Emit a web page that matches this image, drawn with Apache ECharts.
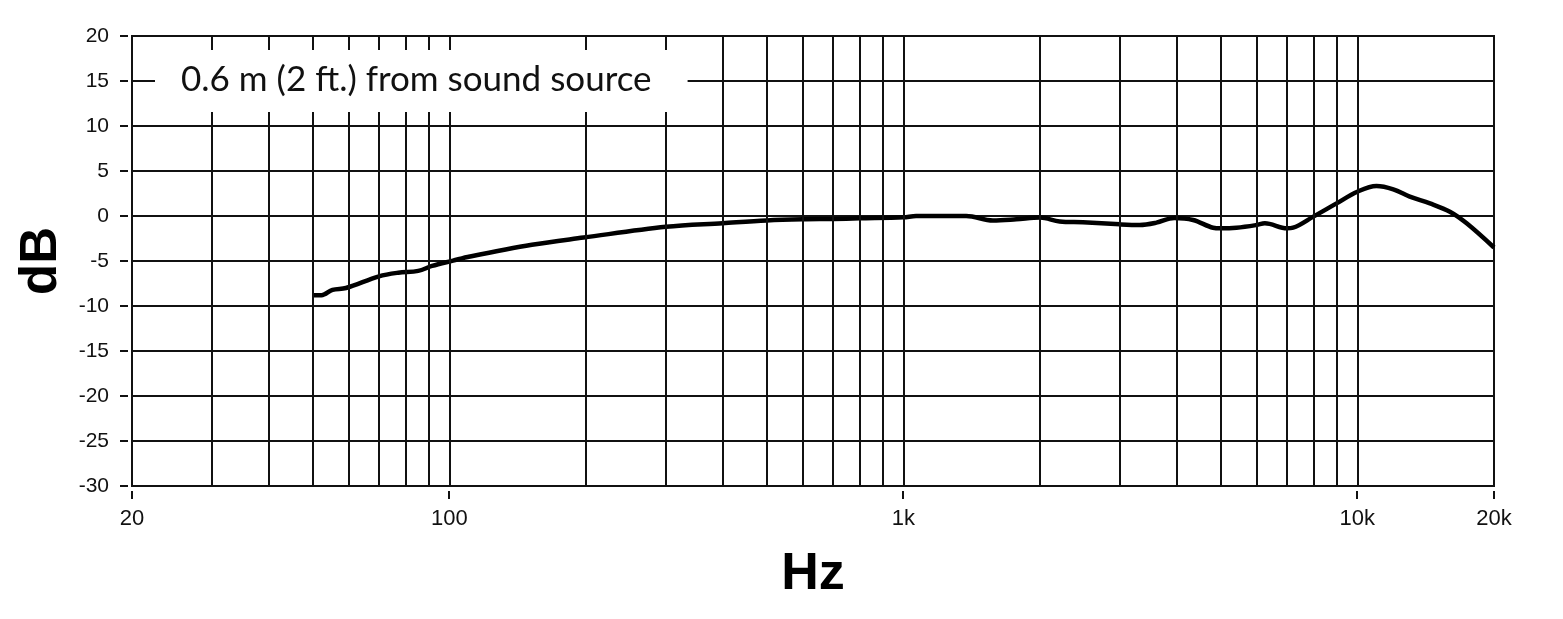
<!DOCTYPE html>
<html>
<head>
<meta charset="utf-8">
<script src="https://cdn.jsdelivr.net/npm/echarts@6/dist/echarts.min.js"></script>
<style>html,body{margin:0;padding:0;background:#fff}#c{width:1563px;height:619px}</style>
</head>
<body>
<div id="c"></div>
<script>
const freqs = [50, 52.3, 55.3, 59.2, 70, 77.2, 85.4, 91.6, 101.9, 111, 152, 197.6, 300, 400, 500, 600, 700, 800, 1000, 1067, 1376, 1575, 1773, 2000, 2209, 2487, 3000, 3316, 3610, 3950, 4347, 4810, 5000, 5418, 6000, 6256, 7000, 7220, 8000, 9000, 10000, 11020, 12000, 13050, 14450, 15990, 17410, 20000];
const dbValues = [-8.8, -8.8, -8.2, -8.0, -6.7, -6.3, -6.1, -5.55, -4.96, -4.5, -3.2, -2.4, -1.2, -0.8, -0.5, -0.37, -0.33, -0.26, -0.15, 0.0, 0.0, -0.5, -0.37, -0.18, -0.6, -0.7, -0.93, -1.0, -0.74, -0.22, -0.44, -1.3, -1.37, -1.3, -1.0, -0.81, -1.37, -1.3, -0.07, 1.4, 2.7, 3.33, 2.96, 2.15, 1.4, 0.48, -0.81, -3.5];
const gridFreqs = [30, 40, 50, 60, 70, 80, 90, 100, 200, 300, 400, 500, 600, 700, 800, 900, 1000, 2000, 3000, 4000, 5000, 6000, 7000, 8000, 9000, 10000];
const xTickLabels = [20, 100, 1000, 10000, 20000];
const yMin = -30, yMax = 20, yStep = 5;
const titleText = '0.6 m (2 ft.) from sound source';

const FONT = '"Liberation Sans", Arial, Helvetica, sans-serif';
const chart = echarts.init(document.getElementById('c'), null, {renderer: 'canvas'});
const lineColor = '#111';
const gridW = 2;
chart.setOption({
  animation: false,
  backgroundColor: '#fff',
  textStyle: {fontFamily: FONT},
  title: {
    text: titleText,
    left: 155, top: 50,
    backgroundColor: '#fff',
    padding: [10, 36, 12, 26],
    textStyle: {fontFamily: 'Lato', fontWeight: 'normal', fontSize: 35, color: '#111', lineHeight: 40},
    z: 10
  },
  grid: {
    left: 132, right: 69, top: 36, bottom: 133,
    show: true, borderColor: lineColor, borderWidth: gridW, backgroundColor: 'transparent'
  },
  xAxis: {
    type: 'log', logBase: 10, min: 20, max: 20000,
    offset: 5,
    name: 'Hz', nameLocation: 'middle', nameGap: 58,
    nameTextStyle: {fontFamily: FONT, fontWeight: 'bold', fontSize: 52, color: '#000'},
    axisLine: {show: false},
    axisTick: {show: false},
    axisLabel: {
      customValues: xTickLabels, margin: 17,
      fontFamily: FONT, fontSize: 22, color: '#111',
      formatter: v => v >= 1000 ? (v / 1000) + 'k' : String(v)
    },
    splitLine: {show: false},
    minorTick: {show: false}
  },
  yAxis: {
    type: 'value', min: yMin, max: yMax, interval: yStep,
    offset: 4,
    name: 'dB', nameLocation: 'middle', nameRotate: 90, nameGap: 58,
    nameTextStyle: {fontFamily: FONT, fontWeight: 'bold', fontSize: 51, color: '#000'},
    axisLine: {show: false},
    axisTick: {show: true, length: 8, lineStyle: {color: lineColor, width: gridW}},
    axisLabel: {margin: 19, fontFamily: FONT, fontSize: 21, color: '#111'},
    splitLine: {show: true, lineStyle: {color: lineColor, width: gridW}}
  },
  series: [{
    type: 'line',
    data: freqs.map((f, i) => [f, dbValues[i]]),
    smooth: 0.35,
    showSymbol: false,
    lineStyle: {color: '#000', width: 4.5},
    z: 3,
    markLine: {
      silent: true,
      symbol: ['none', 'none'],
      label: {show: false},
      lineStyle: {color: lineColor, width: gridW, type: 'solid'},
      emphasis: {disabled: true},
      data: gridFreqs.map(f => ({xAxis: f}))
    }
  }]
});

// x-axis tick marks placed through the library's own x scale
const yBase = chart.convertToPixel({yAxisIndex: 0}, yMin) + 5;
chart.setOption({
  graphic: xTickLabels.map(v => {
    const px = Math.round(chart.convertToPixel({xAxisIndex: 0}, v));
    return {
      type: 'line', silent: true,
      shape: {x1: px, y1: yBase, x2: px, y2: yBase + 8},
      style: {stroke: lineColor, lineWidth: gridW}
    };
  })
});
</script>
</body>
</html>
